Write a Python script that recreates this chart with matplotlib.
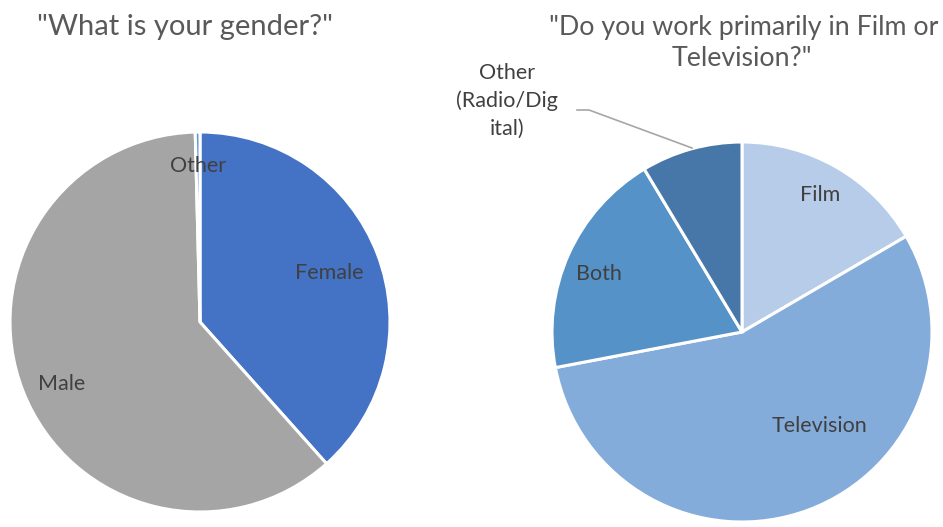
import matplotlib
matplotlib.use("Agg")
import matplotlib.pyplot as plt
import numpy as np

plt.rcParams['font.family'] = ['Lato', 'DejaVu Sans']

# Data
gender_labels = ["Female", "Male", "Other"]
gender_values = [38.4, 61.2, 0.4]
gender_colors = ["#4472C4", "#A5A5A5", "#5B9BD5"]

work_labels = ["Film", "Television", "Both", "Other\n(Radio/Dig\nital)"]
work_values = [16.6, 55.4, 19.4, 8.6]
work_colors = ["#B7CCE8", "#84ACDB", "#5592C8", "#4677A8"]

W, H = 943, 527
fig = plt.figure(figsize=(W / 100, H / 100), dpi=100)
R = 190

def make_ax(cx, cy):
    ax = fig.add_axes([(cx - R) / W, (H - cy - R) / H, 2 * R / W, 2 * R / H])
    ax.set_xlim(-1, 1)
    ax.set_ylim(-1, 1)
    ax.set_aspect('equal')
    ax.axis('off')
    return ax

txt_color = "#404040"
title_color = "#595959"
LFS = 15.5

# Left pie
ax1 = make_ax(200, 322)
w1, _ = ax1.pie(gender_values, colors=gender_colors, startangle=90, counterclock=False,
                radius=1, wedgeprops=dict(edgecolor='white', linewidth=2.2))
ax1.set_xlim(-1, 1); ax1.set_ylim(-1, 1)
left_place = [(0.73, 0), (0.80, 2.5), (0.82, 0)]
for wd, lab, (d, off) in zip(w1, gender_labels, left_place):
    ang = np.deg2rad((wd.theta1 + wd.theta2) / 2 + off)
    ax1.text(d * np.cos(ang), d * np.sin(ang), lab, ha='center', va='center',
             fontsize=LFS, color=txt_color)

fig.text(185 / W, 1 - 27 / H, '"What is your gender?"', ha='center', va='center',
         fontsize=21, color=title_color)

# Right pie
ax2 = make_ax(742, 332)
w2, _ = ax2.pie(work_values, colors=work_colors, startangle=90, counterclock=False,
                radius=1, wedgeprops=dict(edgecolor='white', linewidth=2.2))
ax2.set_xlim(-1, 1); ax2.set_ylim(-1, 1)
# label placement (distance, angle offset in degrees)
right_place = [(0.83, 0), (0.64, 19), (0.81, 2)]
for wd, lab, (d, off) in zip(w2[:3], work_labels[:3], right_place):
    ang = np.deg2rad((wd.theta1 + wd.theta2) / 2 + off)
    ax2.text(d * np.cos(ang), d * np.sin(ang), lab, ha='center', va='center',
             fontsize=LFS, color=txt_color)

# Outside label for "Other"
def px2data(x, y):
    return ((x - 742) / R, (332 - y) / R)

lx, ly = px2data(507, 101)
ax2.text(lx, ly, work_labels[3], ha='center', va='center', fontsize=LFS,
         color=txt_color, linespacing=1.45, clip_on=False)
p0 = px2data(577, 110)
p1 = px2data(589, 110)
p2 = px2data(692, 148)
ax2.plot([p0[0], p1[0], p2[0]], [p0[1], p1[1], p2[1]], color='#A6A6A6',
         linewidth=1.2, clip_on=False)

fig.text(744 / W, 1 - 27 / H, '"Do you work primarily in Film or', ha='center',
         va='center', fontsize=19.3, color=title_color)
fig.text(742 / W, 1 - 59 / H, 'Television?"', ha='center', va='center',
         fontsize=19.3, color=title_color)

fig.savefig("out.png", dpi=100)
